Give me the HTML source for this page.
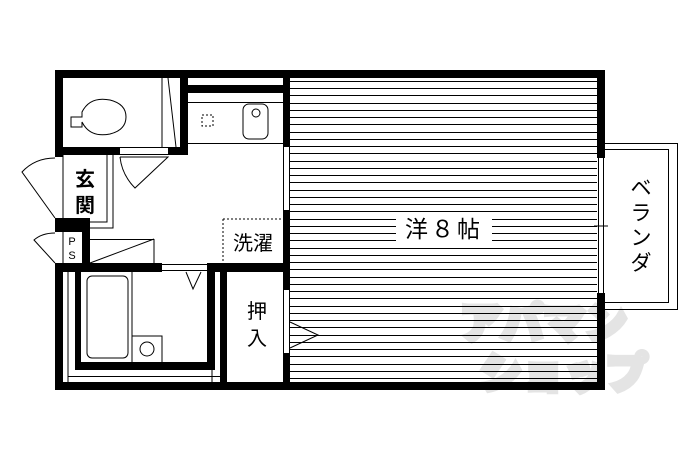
<!DOCTYPE html>
<html><head><meta charset="utf-8"><style>
html,body{margin:0;padding:0;background:#fff;}
svg{display:block;}
text{font-family:"Liberation Sans","Noto Sans CJK JP",sans-serif;}
</style></head><body>
<svg width="690" height="460" viewBox="0 0 690 460" xmlns="http://www.w3.org/2000/svg">
<rect width="690" height="460" fill="#fff"/>
<text x="460" y="338" font-size="42" font-weight="900" fill="#e4e4e4" stroke="#e4e4e4" stroke-width="5" font-family="Noto Sans CJK JP">アパマン</text>
<text x="480" y="388" font-size="42" font-weight="900" fill="#e4e4e4" stroke="#e4e4e4" stroke-width="5" font-family="Noto Sans CJK JP">ショップ</text>
<g stroke="#000" stroke-width="1" fill="none">
<path d="M290 81.5H597M290 88.5H597M290 95.5H597M290 103.5H597M290 110.5H597M290 117.5H597M290 124.5H597M290 132.5H597M290 139.5H597M290 146.5H597M290 153.5H597M290 161.5H597M290 168.5H597M290 175.5H597M290 182.5H597M290 190.5H597M290 197.5H597M290 204.5H597M290 211.5H597M290 219.5H597M290 226.5H597M290 233.5H597M290 240.5H597M290 248.5H597M290 255.5H597M290 262.5H597M290 269.5H597M290 277.5H597M290 284.5H597M290 291.5H597M290 298.5H597M290 306.5H597M290 313.5H597M290 320.5H597M290 327.5H597M290 335.5H597M290 342.5H597M290 349.5H597M290 356.5H597M290 364.5H597M290 371.5H597M290 378.5H597"/>
</g>
<rect x="396" y="214" width="96" height="28" fill="#fff"/>
<text x="444" y="237" font-size="23" text-anchor="middle" letter-spacing="3">洋８帖</text>
<g fill="#000">
<rect x="55" y="70" width="550" height="8"/>
<rect x="55" y="382" width="550" height="8"/>
<rect x="597" y="70" width="8" height="88"/>
<rect x="597" y="293" width="8" height="97"/>
<rect x="55" y="70" width="8" height="87"/>
<rect x="55" y="218" width="35" height="14"/>
<rect x="82" y="218" width="8" height="54"/>
<rect x="55" y="263" width="107" height="9"/>
<rect x="207" y="263" width="83" height="9"/>
<rect x="55" y="263" width="8" height="127"/>
<rect x="55" y="147" width="65" height="8"/>
<rect x="168" y="147" width="20" height="8"/>
<rect x="180" y="70" width="8" height="85"/>
<rect x="188" y="85" width="95" height="8"/>
<rect x="283" y="70" width="7" height="77"/>
<rect x="283" y="210" width="7" height="80"/>
<rect x="283" y="353" width="7" height="37"/>
<rect x="75" y="272" width="6" height="98"/>
<rect x="75" y="362" width="140" height="8"/>
<rect x="207" y="263" width="8" height="107"/>
<rect x="220" y="272" width="7" height="118"/>
</g>
<g stroke="#000" stroke-width="1" fill="none">
<path d="M283.5 147V210M289.5 147V210M283.5 290V353M289.5 290V353"/>
<path d="M598.5 158V293M603.5 158V293"/>
<path d="M120 147.5H168M120 154.5H168"/>
<path d="M162 78V147M168 78 L176 147"/>
<path d="M71 117H82V112 Q90 96 110 100 Q126 104 126 117 Q126 130 110 134 Q90 138 82 122V127H71Z"/>
<path d="M188 102.5H283M188 143.5H283"/>
<rect x="243" y="104" width="25" height="35" rx="6"/>
<circle cx="256" cy="113" r="4"/>
<rect x="202" y="115" width="11" height="11" stroke-dasharray="2,2"/>
<path d="M120 157 L168 157 L135 188 Q122 175 120 157"/>
<path d="M63 155V218M107 155V222H63M113 155V228H90"/>
<path d="M55 158 Q35 158 22 172 L55 218"/>
<path d="M55 233 Q42 233 34 240 L55 263"/>
<path d="M63 232V263"/>
<path d="M90 239.5H154V263M90 263 L154 239"/>
<path d="M223 219H283M223 219V263" stroke-dasharray="2,2"/>
<path d="M162 264.5H207M162 270.5H207"/>
<path d="M186 272 L193 289 L201 272"/>
<path d="M68 272V382M68 376.5H220M212 370V382"/>
<rect x="87" y="276" width="41" height="82" rx="5"/>
<path d="M132 272V362M132 336H162V362"/>
<circle cx="147" cy="349" r="7"/>
<path d="M290 322 L318 335 L290 348"/>
<path d="M605 143.5H677.5V309.5H605M605 149.5H668.5V302.5H605"/>
<path d="M594 226H608"/>
</g>
<g font-weight="bold">
<text x="85" y="186" font-size="20" text-anchor="middle">玄</text>
<text x="85" y="212" font-size="20" text-anchor="middle">関</text>
</g>
<text x="72" y="245" font-size="11" text-anchor="middle">P</text>
<text x="72" y="259" font-size="11" text-anchor="middle">S</text>
<text x="253" y="250" font-size="20" text-anchor="middle">洗濯</text>
<text x="257" y="318" font-size="20" text-anchor="middle">押</text>
<text x="257" y="345" font-size="20" text-anchor="middle">入</text>
<text x="641" y="195" font-size="21" text-anchor="middle">ベ</text>
<text x="641" y="220" font-size="21" text-anchor="middle">ラ</text>
<text x="641" y="245" font-size="21" text-anchor="middle">ン</text>
<text x="641" y="270" font-size="21" text-anchor="middle">ダ</text>
</svg>
</body></html>
